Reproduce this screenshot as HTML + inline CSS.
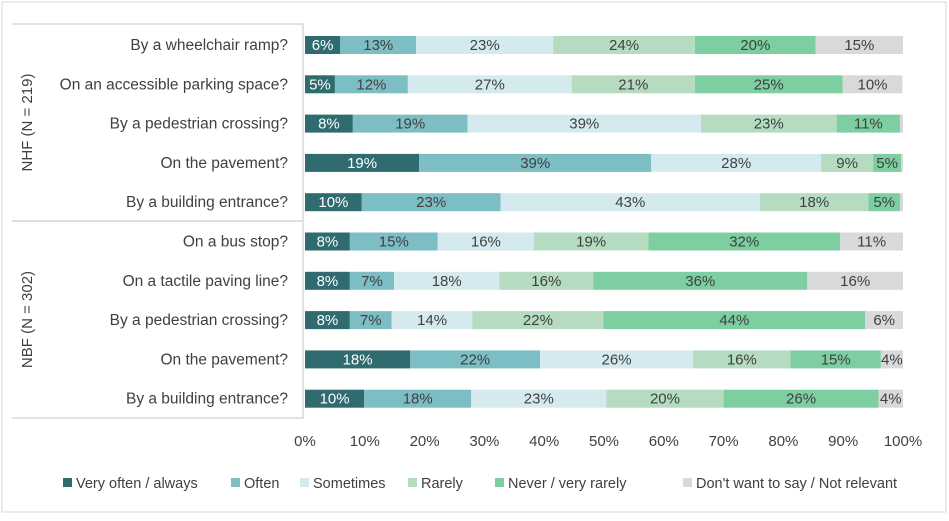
<!DOCTYPE html>
<html><head><meta charset="utf-8"><style>
body{margin:0;background:#fff;font-family:"Liberation Sans",sans-serif;}
</style></head><body>
<svg id="chart" width="949" height="516" xmlns="http://www.w3.org/2000/svg" font-family="Liberation Sans, sans-serif"></svg>
<script>
const categories=["By a wheelchair ramp?","On an accessible parking space?","By a pedestrian crossing?","On the pavement?","By a building entrance?","On a bus stop?","On a tactile paving line?","By a pedestrian crossing?","On the pavement?","By a building entrance?"];
const seriesNames=["Very often / always","Often","Sometimes","Rarely","Never / very rarely","Don't want to say / Not relevant"];
const veryOften=[5.9,5.0,8.0,19.1,9.5,7.5,7.5,7.5,17.6,9.9];
const often=[12.7,12.2,19.2,38.8,23.2,14.7,7.4,7.0,21.7,17.9];
const sometimes=[22.9,27.4,39.0,28.4,43.4,16.1,17.6,13.5,25.6,22.6];
const rarely=[23.7,20.6,22.7,8.7,18.1,19.1,15.7,21.9,16.3,19.6];
const never=[20.2,24.7,10.6,4.7,5.3,32.1,35.8,43.8,15.1,25.9];
const dontSay=[14.6,10.0,0.5,0.3,0.5,10.5,16.0,6.3,3.7,4.1];
const ticks=[0,10,20,30,40,50,60,70,80,90,100];
const groups=["NHF (N = 219)","NBF (N = 302)"];
const colors=["#2f6b6f","#7dbdc4","#d5eaee","#b5dcc0","#7dcea0","#d9d9d9"];
const series=[veryOften,often,sometimes,rarely,never,dontSay];
const svg=document.getElementById('chart');
const NS="http://www.w3.org/2000/svg";
const x0=305,x1=903;
const xs=v=>x0+(x1-x0)*v/100;
const ys=i=>45+i*39.3;
function mk(tag,attrs,parent){const e=document.createElementNS(NS,tag);for(const k in attrs)e.setAttribute(k,attrs[k]);(parent||svg).appendChild(e);return e;}
let f=mk('rect',{x:2,y:2,width:944,height:510,fill:'none',stroke:'#d9d9d9'});


[[24,221],[221,418]].forEach((g,k)=>{
 const p=mk('path',{d:`M12 ${g[0]} H303 V${g[1]} H12`,fill:'none',stroke:'#d9d9d9','stroke-width':1.5});
 
 
 const cy=(g[0]+g[1])/2;
 const t=mk('text',{x:0,y:0,transform:`translate(32 ${cy}) rotate(-90)`,'text-anchor':'middle','font-size':15,fill:'#404040'});
 t.textContent=groups[k];
 
 
});
categories.forEach((c,i)=>{
 const y=ys(i);
 const t=mk('text',{x:288,y:y+5,'text-anchor':'end','font-size':15.5,fill:'#404040'});
 t.textContent=c;
 
 
 let acc=0;
 series.forEach((s,j)=>{
  const v=s[i];
  const r=mk('rect',{x:xs(acc),y:y-9,width:xs(acc+v)-xs(acc),height:18,fill:colors[j]});
  
  
  if(v>=2){
   const l=mk('text',{x:(xs(acc)+xs(acc+v))/2,y:y+5,'text-anchor':'middle','font-size':15,fill:j==0?'#fff':'#404040'});
   l.textContent=Math.round(v)+'%';
   
   
  }
  acc+=v;
 });
});
ticks.forEach(v=>{
 const t=mk('text',{x:xs(v),y:446,'text-anchor':'middle','font-size':15,fill:'#404040'});
 t.textContent=v+'%';
 
 
});
const lx=[76,244,313,421,508,696];
seriesNames.forEach((n,j)=>{
 const g=mk('g',{});
 
 
 mk('rect',{x:lx[j]-13,y:478,width:9,height:9,fill:colors[j]},g);
 const t=mk('text',{x:lx[j],y:488,'font-size':14.5,fill:'#404040'},g);
 t.textContent=n;
});
</script>
</body></html>
